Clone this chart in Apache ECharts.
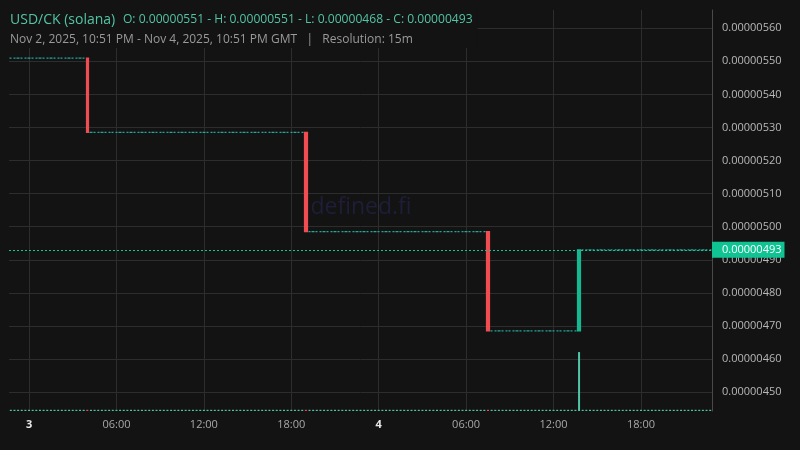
<!DOCTYPE html>
<html><head><meta charset="utf-8">
<script src="https://cdn.jsdelivr.net/npm/echarts@6/dist/echarts.min.js"></script>
<style>html,body{margin:0;padding:0;background:#131313;}#c{width:800px;height:450px;}</style>
</head><body><div id="c"></div>
<script>
// 15-minute candles, Nov 2 2025 22:45 GMT .. Nov 4 2025 22:45 GMT (193 candles)
const startTime = Date.UTC(2025, 10, 2, 22, 45);
const stepMs = 15 * 60 * 1000;
const categories = [];
for (let i = 0; i < 193; i++) categories.push(String(startTime + i * stepMs));

const firstOpen = 0.00000551;
const closes = [
  // 0..20
  0.00000551,0.00000551,0.00000551,0.00000551,0.00000551,0.00000551,0.00000551,0.00000551,0.00000551,0.00000551,
  0.00000551,0.00000551,0.00000551,0.00000551,0.00000551,0.00000551,0.00000551,0.00000551,0.00000551,0.00000551,
  0.00000551,
  // 21..80
  0.000005285,0.000005285,0.000005285,0.000005285,0.000005285,0.000005285,0.000005285,0.000005285,0.000005285,0.000005285,
  0.000005285,0.000005285,0.000005285,0.000005285,0.000005285,0.000005285,0.000005285,0.000005285,0.000005285,0.000005285,
  0.000005285,0.000005285,0.000005285,0.000005285,0.000005285,0.000005285,0.000005285,0.000005285,0.000005285,0.000005285,
  0.000005285,0.000005285,0.000005285,0.000005285,0.000005285,0.000005285,0.000005285,0.000005285,0.000005285,0.000005285,
  0.000005285,0.000005285,0.000005285,0.000005285,0.000005285,0.000005285,0.000005285,0.000005285,0.000005285,0.000005285,
  0.000005285,0.000005285,0.000005285,0.000005285,0.000005285,0.000005285,0.000005285,0.000005285,0.000005285,0.000005285,
  // 81..130
  0.000004985,0.000004985,0.000004985,0.000004985,0.000004985,0.000004985,0.000004985,0.000004985,0.000004985,0.000004985,
  0.000004985,0.000004985,0.000004985,0.000004985,0.000004985,0.000004985,0.000004985,0.000004985,0.000004985,0.000004985,
  0.000004985,0.000004985,0.000004985,0.000004985,0.000004985,0.000004985,0.000004985,0.000004985,0.000004985,0.000004985,
  0.000004985,0.000004985,0.000004985,0.000004985,0.000004985,0.000004985,0.000004985,0.000004985,0.000004985,0.000004985,
  0.000004985,0.000004985,0.000004985,0.000004985,0.000004985,0.000004985,0.000004985,0.000004985,0.000004985,0.000004985,
  // 131..155
  0.000004685,0.000004685,0.000004685,0.000004685,0.000004685,0.000004685,0.000004685,0.000004685,0.000004685,0.000004685,
  0.000004685,0.000004685,0.000004685,0.000004685,0.000004685,0.000004685,0.000004685,0.000004685,0.000004685,0.000004685,
  0.000004685,0.000004685,0.000004685,0.000004685,0.000004685,
  // 156..192
  0.00000493,0.00000493,0.00000493,0.00000493,0.00000493,0.00000493,0.00000493,0.00000493,0.00000493,0.00000493,
  0.00000493,0.00000493,0.00000493,0.00000493,0.00000493,0.00000493,0.00000493,0.00000493,0.00000493,0.00000493,
  0.00000493,0.00000493,0.00000493,0.00000493,0.00000493,0.00000493,0.00000493,0.00000493,0.00000493,0.00000493,
  0.00000493,0.00000493,0.00000493,0.00000493,0.00000493,0.00000493,0.00000493
];

const volumes = [
  0.3,0.3,0.3,0.3,0.3,0.3,0.3,0.3,0.3,0.3, 0.3,0.3,0.3,0.3,0.3,0.3,0.3,0.3,0.3,0.3, 0.3,
  0.3,0.3,0.3,0.3,0.3,0.3,0.3,0.3,0.3,0.3, 0.3,0.3,0.3,0.3,0.3,0.3,0.3,0.3,0.3,0.3,
  0.3,0.3,0.3,0.3,0.3,0.3,0.3,0.3,0.3,0.3, 0.3,0.3,0.3,0.3,0.3,0.3,0.3,0.3,0.3,0.3,
  0.3,0.3,0.3,0.3,0.3,0.3,0.3,0.3,0.3,0.3, 0.3,0.3,0.3,0.3,0.3,0.3,0.3,0.3,0.3,0.3,
  0.3,0.3,0.3,0.3,0.3,0.3,0.3,0.3,0.3,0.3, 0.3,0.3,0.3,0.3,0.3,0.3,0.3,0.3,0.3,0.3,
  0.3,0.3,0.3,0.3,0.3,0.3,0.3,0.3,0.3,0.3, 0.3,0.3,0.3,0.3,0.3,0.3,0.3,0.3,0.3,0.3,
  0.3,0.3,0.3,0.3,0.3,0.3,0.3,0.3,0.3,0.3,
  0.3,0.3,0.3,0.3,0.3,0.3,0.3,0.3,0.3,0.3, 0.3,0.3,0.3,0.3,0.3,0.3,0.3,0.3,0.3,0.3, 0.3,0.3,0.3,0.3,0.3,
  14.7,0.3,0.3,0.3,0.3,0.3,0.3,0.3,0.3,0.3, 0.3,0.3,0.3,0.3,0.3,0.3,0.3,0.3,0.3,0.3,
  0.3,0.3,0.3,0.3,0.3,0.3,0.3,0.3,0.3,0.3, 0.3,0.3,0.3,0.3,0.3,0.3,0.3
];

const yTickStep = 0.0000001;
const yMin = 0.0000044426;
const yMax = 0.0000056553;

const FONT = "'Open Sans', 'Noto Sans', sans-serif";
const UP = '#26a69a', UP_BIG = '#17b890', DOWN = '#f04d52', VOL_UP = '#4fc6a6';

const opens = closes.map((c, i) => i === 0 ? firstOpen : closes[i - 1]);
const candleData = closes.map((c, i) => {
  const o = opens[i];
  const item = { value: [o, c, Math.min(o, c), Math.max(o, c)] };
  if (c > o) item.itemStyle = { color: UP_BIG, borderColor: UP_BIG };
  return item;
});
const volumeData = volumes.map((v, i) => ({
  value: v,
  itemStyle: { color: closes[i] < opens[i] ? DOWN : VOL_UP }
}));
const lastClose = closes[closes.length - 1];

function isMajor(idx) {
  const d = new Date(startTime + idx * stepMs);
  return d.getUTCMinutes() === 0 && d.getUTCHours() % 6 === 0;
}

const chart = echarts.init(document.getElementById('c'), null, { renderer: 'canvas' });
chart.setOption({
  backgroundColor: '#131313',
  animation: false,
  textStyle: { fontFamily: FONT },
  title: {
    left: 0, top: 0,
    padding: [10, 5, 2, 10],
    backgroundColor: '#131313',
    text: '{a|USD/CK (solana)} {b|O: 0.00000551 - H: 0.00000551 - L: 0.00000468 - C: 0.00000493}\n{c|Nov 2, 2025, 10:51 PM - Nov 4, 2025, 10:51 PM GMT   |   Resolution: 15m}',
    textStyle: {
      fontFamily: FONT, fontWeight: 'normal',
      rich: {
        a: { fontSize: 14, color: '#52c4a4', lineHeight: 20, fontFamily: FONT, fontWeight: 'normal' },
        b: { fontSize: 12.1, color: '#52c4a4', lineHeight: 20, fontFamily: FONT, fontWeight: 'normal', padding: [0, 0, 0, 3] },
        c: { fontSize: 12, color: '#9a9a9a', lineHeight: 20, fontFamily: FONT, fontWeight: 'normal' }
      }
    }
  },
  graphic: [{
    type: 'text', silent: true, z: 1,
    style: { x: 361, y: 207, text: 'defined.fi', fontSize: 23, fontFamily: FONT, fill: '#1e1e38', align: 'center', verticalAlign: 'middle' }
  }],
  grid: { left: 9, right: 88, top: 10, bottom: 39 },
  xAxis: {
    type: 'category', data: categories, boundaryGap: true,
    axisLine: { show: false }, axisTick: { show: false },
    axisLabel: {
      interval: isMajor, margin: 8, color: '#a8a8a8', fontSize: 11, fontFamily: FONT,
      formatter: (val) => {
        const d = new Date(+val);
        const h = d.getUTCHours();
        if (h === 0) return '{b|' + d.getUTCDate() + '}';
        return (h < 10 ? '0' : '') + h + ':00';
      },
      rich: { b: { fontWeight: 'bold', color: '#e6e6e6', fontSize: 11, fontFamily: FONT } }
    },
    splitLine: { show: true, interval: isMajor, alignWithLabel: true, lineStyle: { color: '#2d2d2d', width: 1 } }
  },
  yAxis: [{
    type: 'value', position: 'right', min: yMin, max: yMax,
    minInterval: yTickStep, maxInterval: yTickStep,
    axisLine: { show: true, lineStyle: { color: '#4a4a4a' } },
    axisTick: { show: false },
    axisLabel: { color: '#b8b8b8', fontSize: 11, margin: 10, fontFamily: FONT, showMinLabel: false, showMaxLabel: false,
      formatter: (v) => v.toFixed(8) },
    splitLine: { show: true, showMinLine: false, showMaxLine: false, lineStyle: { color: '#2d2d2d', width: 1 } }
  }, {
    type: 'value', show: false, min: 0, max: 100, splitLine: { show: false }
  }],
  series: [{
    type: 'bar', name: 'Volume', xAxisIndex: 0, yAxisIndex: 1, data: volumeData, barWidth: 2, silent: true, z: 1
  }, {
    type: 'candlestick', name: 'USD/CK', data: candleData, barWidth: 2.8, z: 3,
    itemStyle: { color: UP, color0: DOWN, borderColor: UP, borderColor0: DOWN, borderWidth: 1.2 },
    markLine: {
      silent: true, symbol: ['none', 'none'], precision: 10, animation: false,
      data: [{ yAxis: lastClose }],
      lineStyle: { color: '#10c795', type: [2, 2], width: 1 },
      label: { show: true, position: 'end', distance: 0, formatter: () => lastClose.toFixed(8),
        backgroundColor: '#0fc492', color: '#ffffff', fontSize: 11, fontFamily: FONT, padding: [2, 3, 2, 10], lineHeight: 12 },
      emphasis: { disabled: true }
    }
  }]
});
</script></body></html>
